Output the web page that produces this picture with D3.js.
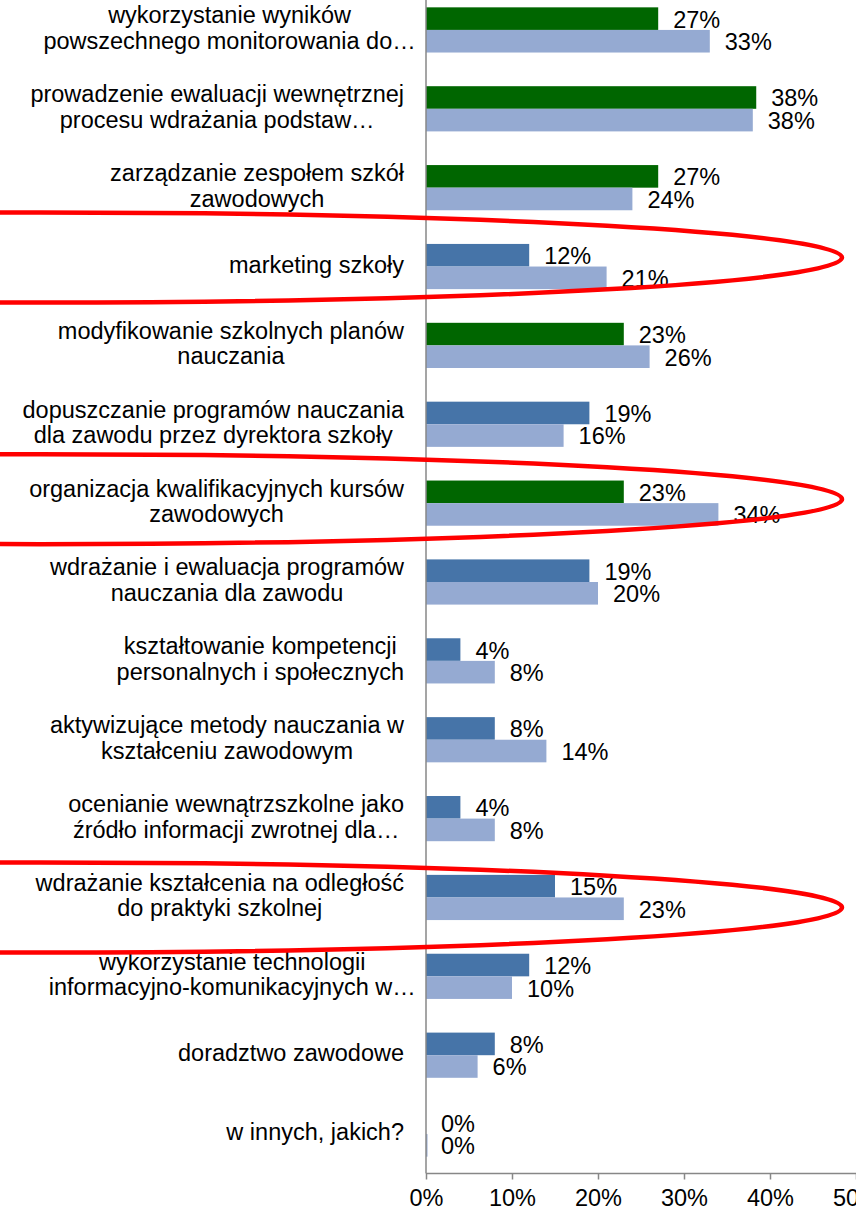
<!DOCTYPE html>
<html>
<head>
<meta charset="utf-8">
<script src="https://cdn.jsdelivr.net/npm/d3@7/dist/d3.min.js"></script>
<style>
  html, body { margin: 0; padding: 0; background: #fff; }
  svg { display: block; font-family: "Liberation Sans", Arial, sans-serif; }
  .axis path, .axis line { stroke: #878787; stroke-width: 1.5px; }
  .axis text { font-size: 23.5px; fill: #000; }
</style>
</head>
<body>
<script>
// categories, one entry per row, "\n" marks the line break of the label
const categories = [
    "wykorzystanie wyników\npowszechnego monitorowania do…",
    "prowadzenie ewaluacji wewnętrznej\nprocesu wdrażania podstaw…",
    "zarządzanie zespołem szkół\nzawodowych",
    "marketing szkoły",
    "modyfikowanie szkolnych planów\nnauczania",
    "dopuszczanie programów nauczania\ndla zawodu przez dyrektora szkoły",
    "organizacja kwalifikacyjnych kursów\nzawodowych",
    "wdrażanie i ewaluacja programów\nnauczania dla zawodu",
    "kształtowanie kompetencji\npersonalnych i społecznych",
    "aktywizujące metody nauczania w\nkształceniu zawodowym",
    "ocenianie wewnątrzszkolne jako\nźródło informacji zwrotnej dla…",
    "wdrażanie kształcenia na odległość\ndo praktyki szkolnej",
    "wykorzystanie technologii\ninformacyjno-komunikacyjnych w…",
    "doradztwo zawodowe",
    "w innych, jakich?"
];
// top bar of each pair (percent)
const seriesTop = [27, 38.4, 27, 12, 23, 19, 23, 19, 4, 8, 4, 15, 12, 8, 0];
// bottom bar of each pair (percent)
const seriesBottom = [33, 38, 24, 21, 26, 16, 34, 20, 8, 14, 8, 23, 10, 6, 0];
// rows whose top bar is drawn green
const greenRows = [categories[0], categories[1], categories[2], categories[4], categories[6]];
// rows circled in red
const circledRows = [categories[3], categories[6], categories[11]];
const xTicks = [0, 10, 20, 30, 40, 50];

const W = 856, H = 1212;
const axisX = 426, axisY = 1173.5;
const colors = { green: "#006600", dark: "#4674a8", light: "#95aad2" };

const svg = d3.select("body").append("svg")
    .attr("width", W)
    .attr("height", H);

const x = d3.scaleLinear().domain([0, 50]).range([axisX, axisX + 430]);
const y = d3.scaleBand()
    .domain(categories)
    .range([-9.5, axisY])
    .paddingInner(0.427)
    .paddingOuter(0.2135);
const y1 = d3.scaleBand().domain([0, 1]).range([0, y.bandwidth()]);

const rows = categories.map((c, i) => ({ name: c, top: seriesTop[i], bottom: seriesBottom[i] }));

// bars
const grp = svg.append("g").selectAll("g.row")
    .data(rows)
    .join("g")
    .attr("class", "row")
    .attr("transform", d => `translate(0,${y(d.name)})`);

grp.append("rect")
    .attr("x", x(0))
    .attr("y", y1(0))
    .attr("height", y1.bandwidth())
    .attr("width", d => x(d.top) - x(0))
    .attr("fill", d => greenRows.includes(d.name) ? colors.green : colors.dark);

grp.append("rect")
    .attr("x", x(0))
    .attr("y", y1(1))
    .attr("height", y1.bandwidth())
    .attr("width", d => Math.max(x(d.bottom) - x(0), 1.5))
    .attr("fill", colors.light);

// value labels
grp.append("text")
    .attr("x", d => x(d.top) + 15)
    .attr("y", y1(0) + y1.bandwidth() / 2)
    .attr("dy", "0.38em")
    .attr("font-size", 23.5)
    .text(d => `${Math.round(d.top)}%`);

grp.append("text")
    .attr("x", d => x(d.bottom) + 15)
    .attr("y", y1(1) + y1.bandwidth() / 2)
    .attr("dy", "0.38em")
    .attr("font-size", 23.5)
    .text(d => `${Math.round(d.bottom)}%`);

// category labels: block right-aligned, lines centred inside the block
const labelRight = 404, lineH = 25.5;
const labels = svg.append("g").selectAll("text.cat")
    .data(rows)
    .join("text")
    .attr("class", "cat")
    .attr("font-size", 23.5)
    .attr("text-anchor", "middle");

labels.each(function (d) {
    const t = d3.select(this);
    const lines = d.name.split("\n");
    const cy = y(d.name) + y.bandwidth() / 2;
    lines.forEach((ln, i) => {
        t.append("tspan")
            .attr("y", cy + (i - (lines.length - 1) / 2) * lineH + 6.2)
            .text(ln);
    });
    // widest line, trailing ellipsis not counted
    let wMax = 0;
    t.selectAll("tspan").each(function () {
        let w = this.getComputedTextLength();
        if (this.textContent.endsWith("…")) {
            const probe = t.append("tspan").attr("visibility", "hidden").text("…");
            w -= probe.node().getComputedTextLength();
            probe.remove();
        }
        wMax = Math.max(wMax, w);
    });
    t.selectAll("tspan").attr("x", labelRight - wMax / 2);
});

// axes
const xAxis = d3.axisBottom(x)
    .tickValues(xTicks)
    .tickSize(6)
    .tickPadding(10)
    .tickFormat(d => `${d}%`);
svg.append("g")
    .attr("class", "axis")
    .attr("transform", `translate(0,${axisY})`)
    .call(xAxis)
    .call(g => g.select(".domain").attr("d", `M${axisX},0H${W}`));

svg.append("line")
    .attr("class", "axis")
    .attr("x1", axisX).attr("x2", axisX)
    .attr("y1", 0).attr("y2", axisY)
    .attr("stroke", "#878787")
    .attr("stroke-width", 1.5);

// red hand-drawn ellipses
const shift = { [categories[3]]: -9, [categories[6]]: -4, [categories[11]]: 10 };
svg.append("g").selectAll("ellipse")
    .data(circledRows)
    .join("ellipse")
    .attr("cx", 40)
    .attr("cy", d => y(d) + y.bandwidth() / 2 + shift[d])
    .attr("rx", 802)
    .attr("ry", 45)
    .attr("fill", "none")
    .attr("stroke", "#ff0000")
    .attr("stroke-width", 4.5);
</script>
</body>
</html>
